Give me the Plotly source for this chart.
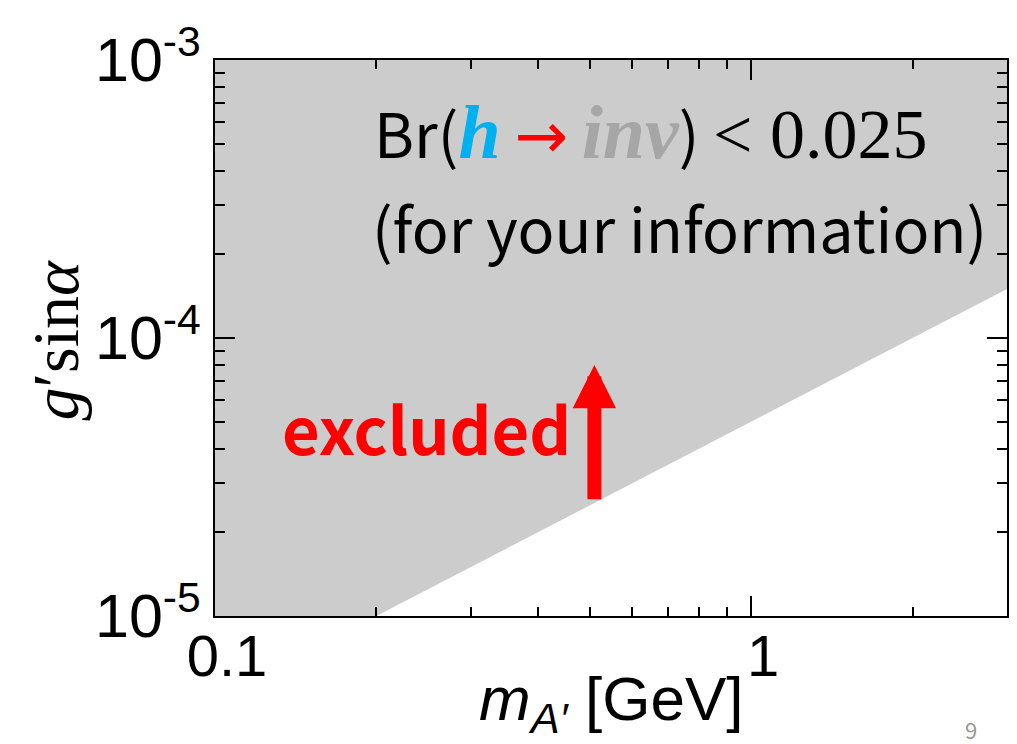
import plotly.graph_objects as go
import math

# ---- data ----
x_range = [0.1, 3.0]             # m_A' [GeV]
y_range = [1e-5, 1e-3]           # g' sin(alpha)
boundary_mass = [0.2, 3.0]       # exclusion boundary (Br(h->inv) < 0.025)
boundary_coupling = [1e-5, 1.5e-4]
x_major = [0.1, 1]
x_major_text = ["0.1", "1"]
x_minor = [0.2, 0.3, 0.4, 0.5, 0.6, 0.7, 0.8, 0.9, 2, 3]
y_major = [1e-5, 1e-4, 1e-3]
y_major_text = ["10<sup>-5</sup>", "10<sup>-4</sup>", "10<sup>-3</sup>"]
y_minor = [k * 1e-5 for k in range(2, 10)] + [k * 1e-4 for k in range(2, 10)]
arrow_mass = 0.51
arrow_tail = 2.6e-5
arrow_head = 8e-5

# ---- figure geometry (pixels) ----
W, H = 1017, 744
L, R, T, B = 215, 8, 60, 128
PW, PH = W - L - R, H - T - B

def px(xp):
    return (xp - L) / PW

def py(yp):
    return (H - B - yp) / PH

SANS = "Liberation Sans, Arial, sans-serif"
JP = "Noto Sans CJK JP, Noto Sans, sans-serif"
SERIF = "Liberation Serif, Times New Roman, serif"

fig = go.Figure()

# excluded region (grey)
poly_x = [x_range[0]] + boundary_mass + [x_range[1], x_range[0]]
poly_y = [y_range[0]] + boundary_coupling + [y_range[1], y_range[1]]
fig.add_trace(go.Scatter(
    x=poly_x, y=poly_y, mode="lines", fill="toself",
    fillcolor="#CCCCCC", line=dict(width=0, color="#CCCCCC"),
    hoverinfo="skip", showlegend=False))

axis_common = dict(
    type="log", showgrid=False, zeroline=False,
    showline=True, linewidth=2, linecolor="black", mirror="ticks",
    ticks="inside", ticklen=20, tickwidth=1.5, tickcolor="black",
    tickmode="array",
)

fig.update_xaxes(
    **axis_common,
    range=[math.log10(x_range[0]), math.log10(x_range[1])],
    tickvals=x_major, ticktext=x_major_text,
    tickfont=dict(family=SANS, size=58, color="black"),
    ticklabelshift=12, ticklabelstandoff=-12,
    minor=dict(tickmode="array", tickvals=x_minor, ticks="inside",
               ticklen=9, tickwidth=1.5, tickcolor="black", showgrid=False),
)
fig.update_yaxes(
    **axis_common,
    range=[math.log10(y_range[0]), math.log10(y_range[1])],
    tickvals=y_major, ticktext=y_major_text,
    tickfont=dict(family=SANS, size=61, color="black"),
    minor=dict(tickmode="array", tickvals=y_minor, ticks="inside",
               ticklen=10, tickwidth=1.5, tickcolor="black", showgrid=False),
)

annotations = []

# Br(h -> inv) < 0.025
line1 = ("Br("
         f'<span style="font-family:{SERIF};font-size:76px;color:#00B0F0"><b><i>h</i></b></span>'
         ' <span style="font-family:\'DejaVu Sans\';font-size:64px;color:#FF0000">→</span> '
         f'<span style="font-family:{SERIF};font-size:76px;color:#A6A6A6"><b><i>inv</i></b></span>'
         ")"
         f' <span style="font-family:{SERIF};font-size:70px">&lt; 0.025</span>')
annotations.append(dict(
    text=line1, xref="paper", yref="paper", x=px(372), y=py(131),
    xanchor="left", yanchor="middle", showarrow=False,
    font=dict(family=JP, size=61, color="black")))
annotations.append(dict(
    text="(for your information)", xref="paper", yref="paper",
    x=px(370), y=py(226), xanchor="left", yanchor="middle", showarrow=False,
    font=dict(family=JP, size=61, color="black")))

# excluded label
annotations.append(dict(
    text="<b>excluded</b>", xref="paper", yref="paper",
    x=px(427), y=py(427), xanchor="center", yanchor="middle", showarrow=False,
    font=dict(family=JP, size=65, color="#FF0000")))

# red arrow
annotations.append(dict(
    text="", xref="x", yref="y", axref="x", ayref="y",
    x=math.log10(arrow_mass), y=math.log10(arrow_head),
    ax=math.log10(arrow_mass), ay=math.log10(arrow_tail),
    showarrow=True, arrowhead=2, arrowwidth=14, arrowsize=0.62,
    arrowcolor="#FF0000", standoff=0))

# axis titles
annotations.append(dict(
    text="<i>g</i>′sin<i>α</i>", xref="paper", yref="paper",
    x=px(55), y=py(340), xanchor="center", yanchor="middle",
    textangle=-90, showarrow=False,
    font=dict(family=SERIF, size=66, color="black")))
annotations.append(dict(
    text="<i>m</i><sub><i>A′</i></sub> [GeV]", xref="paper", yref="paper",
    x=px(612), y=py(703), xanchor="center", yanchor="middle",
    showarrow=False, font=dict(family=SANS, size=62, color="black")))

# slide page number
annotations.append(dict(
    text="9", xref="paper", yref="paper", x=px(973), y=py(729),
    xanchor="center", yanchor="middle", showarrow=False,
    font=dict(family=JP, size=22, color="#999999")))

fig.update_layout(
    width=W, height=H,
    margin=dict(l=L, r=R, t=T, b=B),
    paper_bgcolor="white", plot_bgcolor="white",
    showlegend=False,
    annotations=annotations,
)

fig.write_html("out.html", config={"displayModeBar": False})
